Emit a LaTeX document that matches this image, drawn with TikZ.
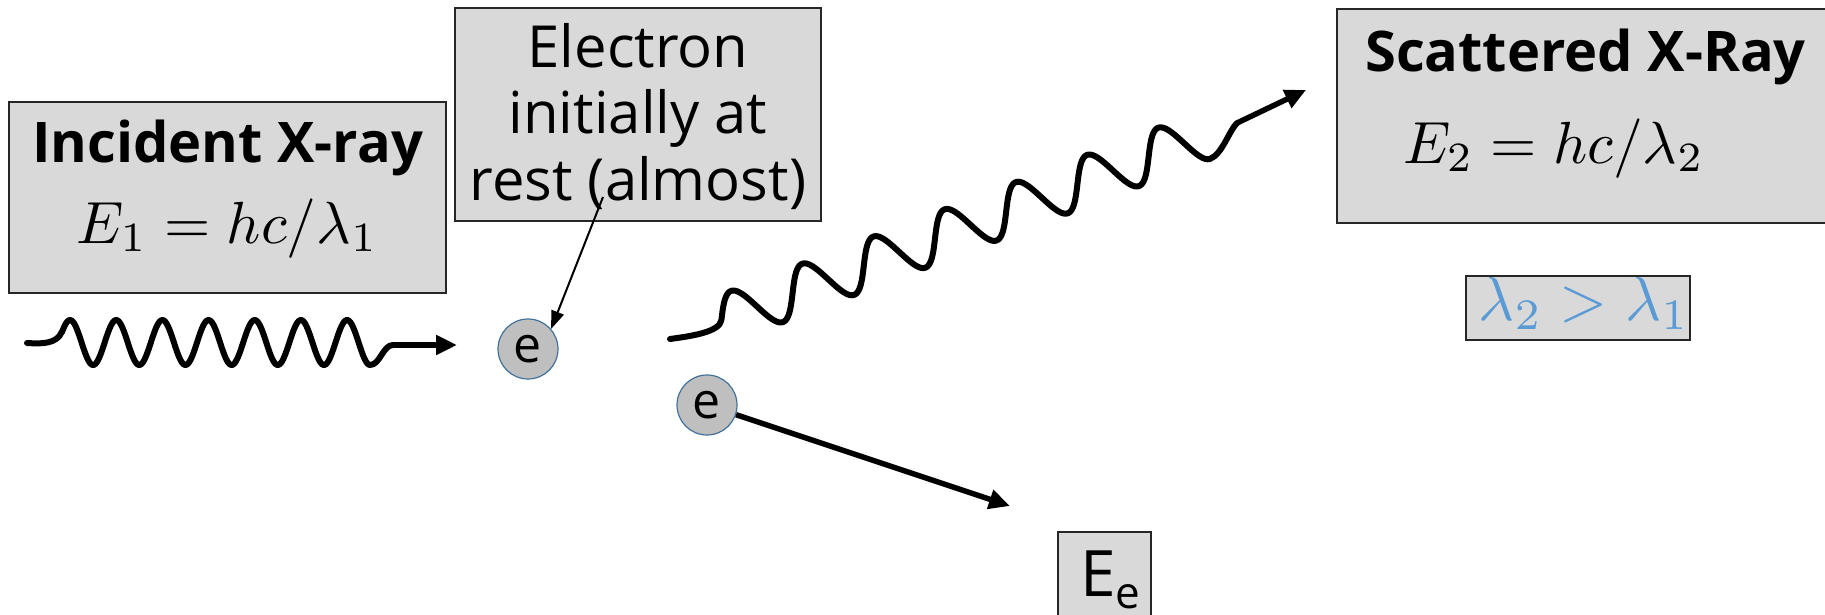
\documentclass[tikz,border=0pt]{standalone}
\usepackage[no-math]{fontspec}
\setmainfont{Open Sans}
\usetikzlibrary{arrows.meta}
\definecolor{boxgray}{HTML}{D9D9D9}
\definecolor{egray}{HTML}{BFBFBF}
\definecolor{eblue}{HTML}{41719C}
\definecolor{lamblue}{HTML}{5B9BD5}
\begin{document}
\begin{tikzpicture}[x=1pt,y=-1pt,
  graybox/.style={draw=black!85, line width=1.8pt, fill=boxgray, inner sep=0pt},
  electron/.style={circle, fill=egray, draw=eblue, line width=1.2pt, minimum size=60pt, inner sep=0pt, font=\fontsize{50}{50}\selectfont},
  wavy/.style={line width=6pt, line cap=round, line join=round},
  bigarrow/.style={line width=5.5pt, -{Triangle[length=21pt,width=19pt]}},
  ptr/.style={line width=2pt, -{Triangle[length=18pt,width=13pt]}},
  bodytxt/.style={inner sep=0pt, anchor=base, font=\fontsize{58}{66}\selectfont},
  titletxt/.style={inner sep=0pt, anchor=base, font=\fontsize{56}{60}\selectfont\bfseries},
  mathtxt/.style={inner sep=0pt, anchor=base}
]
\useasboundingbox (0,0) rectangle (1825,615);

% boxes
\node[graybox, minimum width=437pt, minimum height=191pt] (incbox) at (227.5,197.5) {};
\node[graybox, minimum width=366pt, minimum height=213pt] (elbox) at (638,114.5) {};
\node[graybox, minimum width=523pt, minimum height=214pt] (scbox) at (1598.5,116) {};
\node[graybox, minimum width=224pt, minimum height=64pt] (lambox) at (1578,308) {};
\node[graybox, minimum width=93pt, minimum height=98pt] (eebox) at (1104.5,581) {};

% texts
\node[titletxt] (inct) at (227.5,162) {Incident X-ray};
\node[mathtxt] (ince) at (227.5,243) {\scalebox{5.95}{$E_1 = hc/\lambda_1$}};
\node[bodytxt] (el1) at (638,68) {Electron};
\node[bodytxt] (el2) at (638,133) {initially at};
\node[bodytxt] (el3) at (638,200) {rest (almost)};
\node[titletxt, anchor=base west] (sct) at (1365,72) {Scattered X-Ray};
\node[mathtxt, anchor=base west] (sce) at (1403,163) {\scalebox{5.95}{$E_2 = hc/\lambda_2$}};
\node[mathtxt, text=lamblue] (lam) at (1584,320) {\scalebox{6.2}{$\lambda_2 > \lambda_1$}};
\node[inner sep=0pt, anchor=base west, font=\fontsize{64}{66}\selectfont] (eet) at (1080,596) {E\raisebox{-12pt}{\fontsize{44}{44}\selectfont e}};

% electrons
\node[electron] (e1) at (528,349) {e};
\node[electron] (e2) at (707,405) {e};

% pointer from label box to electron
\coordinate (ptrstart) at (603,197);
\draw[ptr] (ptrstart) -- (e1.41);

% incident wave
\coordinate (iw0) at (27,343);
\coordinate (iwend) at (393,345);
\coordinate (iwtip) at (457,345);
\draw[wavy] (iw0) .. controls (42,344) and (57,344) .. (62,331.5)
  -- plot[domain=62:370, samples=260, smooth] (\x,{342.5-22.5*sin((\x-58.5)/46.17*360)})
  .. controls (380,365) and (383,345) .. (iwend);
\draw[bigarrow] (iwend) -- (iwtip);

% scattered wave
\coordinate (sw0) at (670,339);
\coordinate (swend) at (1237,123);
\coordinate (swtip) at (1306,90);
\draw[wavy] (sw0) .. controls (692,336) and (719.5,332) .. (721.4,320.1)
  -- plot[domain=0:2430, samples=400, smooth, variable=\t]
     ({739.2+(\t-90)/360*71.2-8.21*sin(\t)},{313.3-(\t-90)/360*27.2-22.35*sin(\t)})
  .. controls (1222,154.3) and (1229,131) .. (swend);
\draw[bigarrow] (swend) -- (swtip);

% recoil electron
\coordinate (eetip) at (1010,506);
\draw[bigarrow] (e2) -- (eetip);
\end{tikzpicture}
\end{document}
